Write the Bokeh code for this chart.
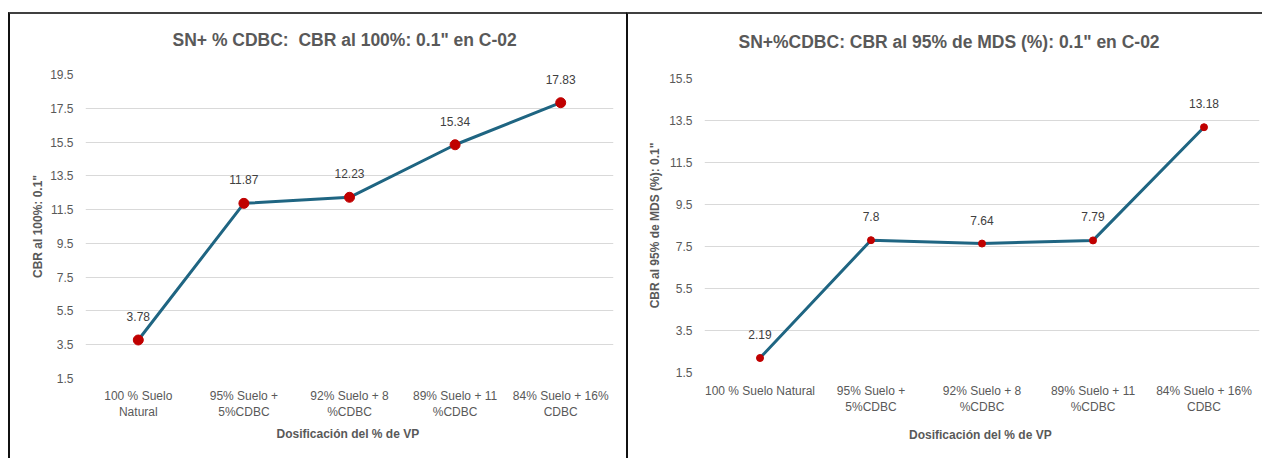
from bokeh.plotting import figure
from bokeh.models import ColumnDataSource, FactorRange, Range1d, FixedTicker, Title
from bokeh.layouts import row
from bokeh.embed import file_html
from bokeh.resources import INLINE
from bokeh.core.properties import value

# ---- data ----
cats_left = ["100 % Suelo\nNatural", "95% Suelo +\n5%CDBC", "92% Suelo + 8\n%CDBC",
             "89% Suelo + 11\n%CDBC", "84% Suelo + 16%\nCDBC"]
vals_left = [3.78, 11.87, 12.23, 15.34, 17.83]
labels_left = ["3.78", "11.87", "12.23", "15.34", "17.83"]
ticks_left = [1.5, 3.5, 5.5, 7.5, 9.5, 11.5, 13.5, 15.5, 17.5, 19.5]

cats_right = ["100 % Suelo Natural", "95% Suelo +\n5%CDBC", "92% Suelo + 8\n%CDBC",
              "89% Suelo + 11\n%CDBC", "84% Suelo + 16%\nCDBC"]
vals_right = [2.19, 7.8, 7.64, 7.79, 13.18]
labels_right = ["2.19", "7.8", "7.64", "7.79", "13.18"]
ticks_right = [1.5, 3.5, 5.5, 7.5, 9.5, 11.5, 13.5, 15.5]

title_left = "SN+ % CDBC:\u00a0\u00a0CBR al 100%: 0.1\" en C-02"
title_right = "SN+%CDBC: CBR al 95% de MDS (%): 0.1\" en C-02"
ylabel_left = "CBR al 100%: 0.1\""
ylabel_right = "CBR al 95% de MDS (%): 0.1\""
xlabel = "Dosificaci\u00f3n  del % de VP"

FONT = "Liberation Sans"
GRAY = "#595959"
LINE = "#1f6582"
RED = "#c00000"


def make_panel(cats, vals, labels, ticks, title, ylabel, width, height, margin,
               mbl, mbr, mbt, mbb, marker_size, title_offset, title_gap,
               x_tick_standoff, x_label_standoff, y_label_standoff, label_offset):
    src = ColumnDataSource(dict(x=cats, y=vals, t=labels))
    p = figure(x_range=FactorRange(factors=cats, range_padding=0),
               y_range=Range1d(ticks[0], ticks[-1]),
               width=width, height=height, output_backend="svg",
               toolbar_location=None, title=title,
               min_border_left=mbl, min_border_right=mbr,
               min_border_top=mbt, min_border_bottom=mbb)
    if "frame_align" in p.properties():
        p.frame_align = False
    p.styles = {"border-top": "2px solid #404040", "border-left": "2px solid #111111"}
    p.margin = margin
    p.outline_line_color = None
    p.background_fill_color = "white"
    p.border_fill_color = "white"

    # spacer between the title and the plotting area
    p.add_layout(Title(text=" ", text_font_size="1px", standoff=title_gap,
                       text_color="white"), "above")

    p.title.align = "left"
    p.title.offset = title_offset
    p.title.standoff = 0
    p.title.text_font = FONT
    p.title.text_font_size = "17.5px"
    p.title.text_font_style = "bold"
    p.title.text_color = GRAY

    p.xgrid.grid_line_color = None
    p.ygrid.grid_line_color = "#d9d9d9"
    p.ygrid.grid_line_width = 1.2

    p.yaxis.ticker = FixedTicker(ticks=ticks)
    for ax in (p.xaxis[0], p.yaxis[0]):
        ax.axis_line_color = None
        ax.major_tick_line_color = None
        ax.minor_tick_line_color = None
        ax.major_tick_out = 0
        ax.major_tick_in = 0
        ax.minor_tick_out = 0
        ax.minor_tick_in = 0
        ax.major_label_text_font = FONT
        ax.major_label_text_font_size = "12px"
        ax.major_label_text_color = GRAY
        ax.axis_label_text_font = FONT
        ax.axis_label_text_font_size = "12px"
        ax.axis_label_text_font_style = "bold"
        ax.axis_label_text_color = GRAY
    p.yaxis.major_label_standoff = 12
    p.yaxis.axis_label = ylabel
    p.yaxis.axis_label_standoff = y_label_standoff
    p.xaxis.axis_label = xlabel
    p.xaxis.major_label_standoff = x_tick_standoff
    p.xaxis.axis_label_standoff = x_label_standoff
    p.xaxis.major_label_orientation = "horizontal"

    p.line("x", "y", source=src, line_color=LINE, line_width=3)
    p.scatter("x", "y", source=src, size=marker_size, fill_color=RED,
              line_color=RED)
    p.text("x", "y", text="t", source=src, y_offset=label_offset,
           text_align="center", text_baseline="bottom",
           text_font=value(FONT), text_font_size="12px", text_color="#404040")
    return p


left = make_panel(cats_left, vals_left, labels_left, ticks_left, title_left,
                  ylabel_left, width=618, height=446, margin=(12, 0, 0, 8),
                  mbl=75, mbr=15, mbt=60, mbb=82, marker_size=10,
                  title_offset=87, title_gap=22,
                  x_tick_standoff=10, x_label_standoff=5, y_label_standoff=2,
                  label_offset=-19)
right = make_panel(cats_right, vals_right, labels_right, ticks_right, title_right,
                   ylabel_right, width=636, height=446, margin=(12, 0, 0, 0),
                   mbl=76, mbr=5, mbt=64, mbb=88, marker_size=7,
                   title_offset=34, title_gap=24,
                   x_tick_standoff=11, x_label_standoff=11, y_label_standoff=4,
                   label_offset=-19)

layout = row(left, right, spacing=0)
open("out.html", "w").write(file_html(layout, INLINE))
